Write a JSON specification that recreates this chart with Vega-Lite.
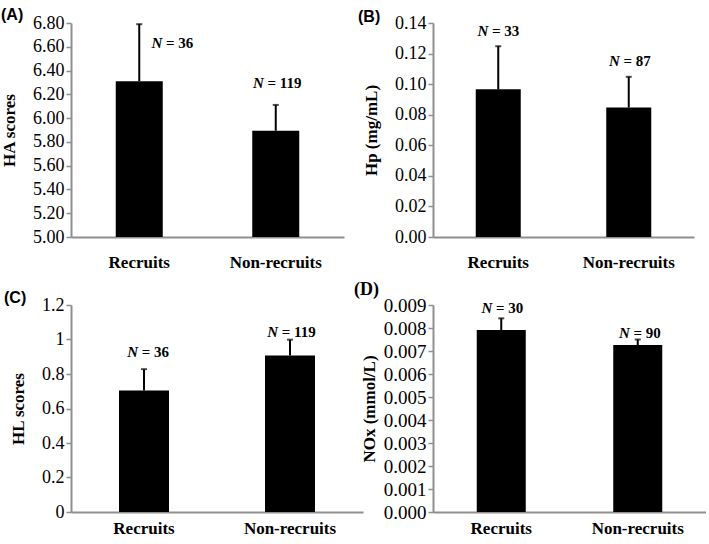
{
  "$schema": "https://vega.github.io/schema/vega-lite/v6.json",
  "background": "white",
  "padding": {"left": 0, "top": 7, "right": 0, "bottom": 0},
  "columns": 2,
  "spacing": {"row": 68, "column": 70},
  "bounds": "flush",
  "config": {
    "view": {"stroke": null},
    "axis": {
      "grid": false,
      "labelOverlap": false,
      "domainColor": "#8f8f8f",
      "domainWidth": 2,
      "tickColor": "#8f8f8f",
      "tickWidth": 1.5,
      "tickSize": 5,
      "labelFont": "Liberation Serif",
      "labelFontSize": 18,
      "labelColor": "black",
      "labelPadding": 2,
      "titleFont": "Liberation Serif",
      "titleFontSize": 17,
      "titleFontWeight": "bold",
      "titleColor": "black"
    },
    "axisX": {
      "ticks": false,
      "labelAngle": 0,
      "labelFontWeight": "bold",
      "labelFontSize": 17,
      "title": null
    },
    "text": {"font": "Liberation Serif", "fontWeight": "bold", "fontSize": 15, "baseline": "middle", "color": "black"}
  },
  "concat": [
    {
      "width": 273, "height": 214,
      "title": {"text": "(A)", "anchor": "start", "frame": "group", "dx": -70, "offset": -9, "font": "Liberation Sans", "fontSize": 16, "fontWeight": "bold", "color": "black"},
      "data": {"values": [
        {"group": "Recruits", "mean": 6.311, "upper": 6.79, "n": 36},
        {"group": "Non-recruits", "mean": 5.894, "upper": 6.111, "n": 119}
      ]},
      "encoding": {"x": {"field": "group", "type": "nominal", "sort": ["Recruits", "Non-recruits"], "scale": {"paddingInner": 0, "paddingOuter": 0}, "axis": {"labelPadding": 17}}},
      "layer": [
        {"mark": {"type": "bar", "color": "black", "width": 47},
         "encoding": {"y": {"field": "mean", "type": "quantitative", "scale": {"domain": [5, 6.8], "nice": false, "zero": false},
           "axis": {"title": "HA scores", "values": [5, 5.2, 5.4, 5.6, 5.8, 6, 6.2, 6.4, 6.6, 6.8], "tickCount": 20, "format": ".2f", "titlePadding": 14, "labelOverlap": false}},
           "y2": {"datum": 5}}},
        {"mark": {"type": "rule", "color": "black", "strokeWidth": 2}, "encoding": {"y": {"field": "mean", "type": "quantitative"}, "y2": {"field": "upper"}}},
        {"mark": {"type": "tick", "color": "black", "thickness": 2, "size": 6}, "encoding": {"y": {"field": "upper", "type": "quantitative"}}},
        {"transform": [{"filter": "datum.group === 'Recruits'"}], "mark": {"type": "text", "text": "N", "fontStyle": "italic", "align": "right", "dx": 23, "dy": 19}, "encoding": {"y": {"field": "upper", "type": "quantitative"}}},
        {"transform": [{"filter": "datum.group === 'Recruits'"}], "mark": {"type": "text", "text": "=", "align": "center", "dx": 31, "dy": 19}, "encoding": {"y": {"field": "upper", "type": "quantitative"}}},
        {"transform": [{"filter": "datum.group === 'Recruits'"}], "mark": {"type": "text", "align": "left", "dx": 39, "dy": 19}, "encoding": {"y": {"field": "upper", "type": "quantitative"}, "text": {"field": "n", "type": "nominal"}}},
        {"transform": [{"filter": "datum.group === 'Non-recruits'"}], "mark": {"type": "text", "text": "N", "fontStyle": "italic", "align": "right", "dx": -12, "dy": -22}, "encoding": {"y": {"field": "upper", "type": "quantitative"}}},
        {"transform": [{"filter": "datum.group === 'Non-recruits'"}], "mark": {"type": "text", "text": "=", "align": "center", "dx": -4, "dy": -22}, "encoding": {"y": {"field": "upper", "type": "quantitative"}}},
        {"transform": [{"filter": "datum.group === 'Non-recruits'"}], "mark": {"type": "text", "align": "left", "dx": 4, "dy": -22}, "encoding": {"y": {"field": "upper", "type": "quantitative"}, "text": {"field": "n", "type": "nominal"}}}
      ]
    },
    {
      "width": 261, "height": 214,
      "title": {"text": "(B)", "anchor": "start", "frame": "group", "dx": -75, "offset": -11, "font": "Liberation Sans", "fontSize": 16, "fontWeight": "bold", "color": "black"},
      "data": {"values": [
        {"group": "Recruits", "mean": 0.0966, "upper": 0.1248, "n": 33},
        {"group": "Non-recruits", "mean": 0.0847, "upper": 0.1048, "n": 87}
      ]},
      "encoding": {"x": {"field": "group", "type": "nominal", "sort": ["Recruits", "Non-recruits"], "scale": {"paddingInner": 0, "paddingOuter": 0}, "axis": {"labelPadding": 17}}},
      "layer": [
        {"mark": {"type": "bar", "color": "black", "width": 45},
         "encoding": {"y": {"field": "mean", "type": "quantitative", "scale": {"domain": [0, 0.14], "nice": false},
           "axis": {"title": "Hp (mg/mL)", "values": [0, 0.02, 0.04, 0.06, 0.08, 0.1, 0.12, 0.14], "tickCount": 20, "format": ".2f", "titlePadding": 14, "labelOverlap": false}},
           "y2": {"datum": 0}}},
        {"mark": {"type": "rule", "color": "black", "strokeWidth": 2}, "encoding": {"y": {"field": "mean", "type": "quantitative"}, "y2": {"field": "upper"}}},
        {"mark": {"type": "tick", "color": "black", "thickness": 2, "size": 6}, "encoding": {"y": {"field": "upper", "type": "quantitative"}}},
        {"transform": [{"filter": "datum.group === 'Recruits'"}], "mark": {"type": "text", "text": "N", "fontStyle": "italic", "align": "right", "dx": -10, "dy": -15}, "encoding": {"y": {"field": "upper", "type": "quantitative"}}},
        {"transform": [{"filter": "datum.group === 'Recruits'"}], "mark": {"type": "text", "text": "=", "align": "center", "dx": -2, "dy": -15}, "encoding": {"y": {"field": "upper", "type": "quantitative"}}},
        {"transform": [{"filter": "datum.group === 'Recruits'"}], "mark": {"type": "text", "align": "left", "dx": 6, "dy": -15}, "encoding": {"y": {"field": "upper", "type": "quantitative"}, "text": {"field": "n", "type": "nominal"}}},
        {"transform": [{"filter": "datum.group === 'Non-recruits'"}], "mark": {"type": "text", "text": "N", "fontStyle": "italic", "align": "right", "dx": -9, "dy": -16}, "encoding": {"y": {"field": "upper", "type": "quantitative"}}},
        {"transform": [{"filter": "datum.group === 'Non-recruits'"}], "mark": {"type": "text", "text": "=", "align": "center", "dx": -1, "dy": -16}, "encoding": {"y": {"field": "upper", "type": "quantitative"}}},
        {"transform": [{"filter": "datum.group === 'Non-recruits'"}], "mark": {"type": "text", "align": "left", "dx": 7, "dy": -16}, "encoding": {"y": {"field": "upper", "type": "quantitative"}, "text": {"field": "n", "type": "nominal"}}}
      ]
    },
    {
      "width": 292, "height": 207,
      "title": {"text": "(C)", "anchor": "start", "frame": "group", "dx": -67, "offset": -10, "font": "Liberation Sans", "fontSize": 16, "fontWeight": "bold", "color": "black"},
      "data": {"values": [
        {"group": "Recruits", "mean": 0.704, "upper": 0.828, "n": 36},
        {"group": "Non-recruits", "mean": 0.907, "upper": 0.999, "n": 119}
      ]},
      "encoding": {"x": {"field": "group", "type": "nominal", "sort": ["Recruits", "Non-recruits"], "scale": {"paddingInner": 0, "paddingOuter": 0}, "axis": {"labelPadding": 8}}},
      "layer": [
        {"mark": {"type": "bar", "color": "black", "width": 50},
         "encoding": {"y": {"field": "mean", "type": "quantitative", "scale": {"domain": [0, 1.2], "nice": false},
           "axis": {"title": "HL scores", "values": [0, 0.2, 0.4, 0.6, 0.8, 1, 1.2], "tickCount": 20, "format": "~g", "titlePadding": 14, "labelOverlap": false}},
           "y2": {"datum": 0}}},
        {"mark": {"type": "rule", "color": "black", "strokeWidth": 2}, "encoding": {"y": {"field": "mean", "type": "quantitative"}, "y2": {"field": "upper"}}},
        {"mark": {"type": "tick", "color": "black", "thickness": 2, "size": 6}, "encoding": {"y": {"field": "upper", "type": "quantitative"}}},
        {"transform": [{"filter": "datum.group === 'Recruits'"}], "mark": {"type": "text", "text": "N", "fontStyle": "italic", "align": "right", "dx": -6, "dy": -17}, "encoding": {"y": {"field": "upper", "type": "quantitative"}}},
        {"transform": [{"filter": "datum.group === 'Recruits'"}], "mark": {"type": "text", "text": "=", "align": "center", "dx": 2, "dy": -17}, "encoding": {"y": {"field": "upper", "type": "quantitative"}}},
        {"transform": [{"filter": "datum.group === 'Recruits'"}], "mark": {"type": "text", "align": "left", "dx": 10, "dy": -17}, "encoding": {"y": {"field": "upper", "type": "quantitative"}, "text": {"field": "n", "type": "nominal"}}},
        {"transform": [{"filter": "datum.group === 'Non-recruits'"}], "mark": {"type": "text", "text": "N", "fontStyle": "italic", "align": "right", "dx": -12, "dy": -8}, "encoding": {"y": {"field": "upper", "type": "quantitative"}}},
        {"transform": [{"filter": "datum.group === 'Non-recruits'"}], "mark": {"type": "text", "text": "=", "align": "center", "dx": -4, "dy": -8}, "encoding": {"y": {"field": "upper", "type": "quantitative"}}},
        {"transform": [{"filter": "datum.group === 'Non-recruits'"}], "mark": {"type": "text", "align": "left", "dx": 4, "dy": -8}, "encoding": {"y": {"field": "upper", "type": "quantitative"}, "text": {"field": "n", "type": "nominal"}}}
      ]
    },
    {
      "width": 273, "height": 207,
      "title": {"text": "(D)", "anchor": "start", "frame": "group", "dx": -79, "offset": -3, "font": "Liberation Serif", "fontSize": 18, "fontWeight": "bold", "color": "black"},
      "data": {"values": [
        {"group": "Recruits", "mean": 0.00791, "upper": 0.00842, "n": 30},
        {"group": "Non-recruits", "mean": 0.00726, "upper": 0.0075, "n": 90}
      ]},
      "encoding": {"x": {"field": "group", "type": "nominal", "sort": ["Recruits", "Non-recruits"], "scale": {"paddingInner": 0, "paddingOuter": 0}, "axis": {"labelPadding": 8}}},
      "layer": [
        {"mark": {"type": "bar", "color": "black", "width": 49},
         "encoding": {"y": {"field": "mean", "type": "quantitative", "scale": {"domain": [0, 0.009], "nice": false},
           "axis": {"title": "NOx (mmol/L)", "values": [0, 0.001, 0.002, 0.003, 0.004, 0.005, 0.006, 0.007, 0.008, 0.009], "tickCount": 20, "format": ".3f", "titlePadding": 5, "labelFontSize": 19, "labelOverlap": false}},
           "y2": {"datum": 0}}},
        {"mark": {"type": "rule", "color": "black", "strokeWidth": 2}, "encoding": {"y": {"field": "mean", "type": "quantitative"}, "y2": {"field": "upper"}}},
        {"mark": {"type": "tick", "color": "black", "thickness": 2, "size": 6}, "encoding": {"y": {"field": "upper", "type": "quantitative"}}},
        {"transform": [{"filter": "datum.group === 'Recruits'"}], "mark": {"type": "text", "text": "N", "fontStyle": "italic", "align": "right", "dx": -9, "dy": -10}, "encoding": {"y": {"field": "upper", "type": "quantitative"}}},
        {"transform": [{"filter": "datum.group === 'Recruits'"}], "mark": {"type": "text", "text": "=", "align": "center", "dx": -1, "dy": -10}, "encoding": {"y": {"field": "upper", "type": "quantitative"}}},
        {"transform": [{"filter": "datum.group === 'Recruits'"}], "mark": {"type": "text", "align": "left", "dx": 7, "dy": -10}, "encoding": {"y": {"field": "upper", "type": "quantitative"}, "text": {"field": "n", "type": "nominal"}}},
        {"transform": [{"filter": "datum.group === 'Non-recruits'"}], "mark": {"type": "text", "text": "N", "fontStyle": "italic", "align": "right", "dx": -8, "dy": -7}, "encoding": {"y": {"field": "upper", "type": "quantitative"}}},
        {"transform": [{"filter": "datum.group === 'Non-recruits'"}], "mark": {"type": "text", "text": "=", "align": "center", "dx": 0, "dy": -7}, "encoding": {"y": {"field": "upper", "type": "quantitative"}}},
        {"transform": [{"filter": "datum.group === 'Non-recruits'"}], "mark": {"type": "text", "align": "left", "dx": 8, "dy": -7}, "encoding": {"y": {"field": "upper", "type": "quantitative"}, "text": {"field": "n", "type": "nominal"}}}
      ]
    }
  ]
}
